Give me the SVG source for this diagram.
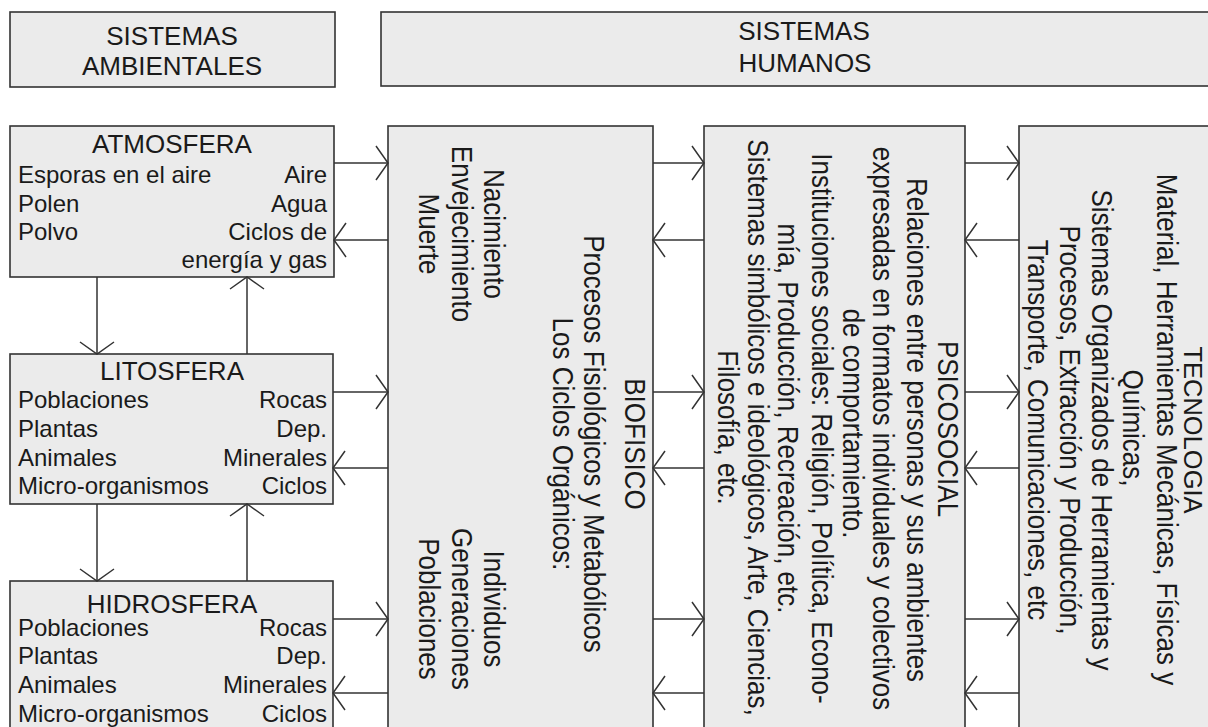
<svg xmlns="http://www.w3.org/2000/svg" width="1208" height="727" viewBox="0 0 1208 727">
<style>
.box{fill:#ebebeb;stroke:#333;stroke-width:1.6}
.t{font-family:"Liberation Sans",Arial,sans-serif;fill:#1a1a1a}
.h{font-size:26px;text-anchor:middle}
.ti{font-size:26px;text-anchor:middle}
.l{font-size:24px}
.r{font-size:24px;text-anchor:end}
.v{font-size:26px;text-anchor:middle}
.c{fill:none;stroke:#333;stroke-width:1.5}
</style>
<defs>
<marker id="v" markerUnits="userSpaceOnUse" viewBox="-15 -20 17 40" refX="0" refY="0" markerWidth="17" markerHeight="40" orient="auto">
<path d="M-12,-17 L0,0 L-12,17" fill="none" stroke="#333" stroke-width="1.5"/>
</marker>
</defs>
<rect width="1208" height="727" fill="#fff"/>
<g id="hdr-ambientales">
<rect class="box" x="10" y="12" width="325" height="75"/>
<text class="t h" x="172" y="45">SISTEMAS</text>
<text class="t h" x="172" y="75">AMBIENTALES</text>
</g>
<g id="hdr-humanos">
<rect class="box" x="381" y="12" width="840" height="74"/>
<text class="t h" x="804" y="40">SISTEMAS</text>
<text class="t h" x="805" y="72">HUMANOS</text>
</g>
<g id="atmosfera">
<rect class="box" x="10" y="126" width="324" height="151"/>
<text class="t ti" x="172" y="153">ATMOSFERA</text>
<text class="t l" x="18" y="183">Esporas en el aire</text>
<text class="t l" x="18" y="212">Polen</text>
<text class="t l" x="18" y="240">Polvo</text>
<text class="t r" x="327" y="183">Aire</text>
<text class="t r" x="327" y="212">Agua</text>
<text class="t r" x="327" y="240">Ciclos de</text>
<text class="t r" x="327" y="268">energía y gas</text>
</g>
<g id="litosfera">
<rect class="box" x="10" y="354" width="323" height="150"/>
<text class="t ti" x="172" y="380">LITOSFERA</text>
<text class="t l" x="18" y="408">Poblaciones</text>
<text class="t l" x="18" y="437">Plantas</text>
<text class="t l" x="18" y="466">Animales</text>
<text class="t l" x="18" y="494">Micro-organismos</text>
<text class="t r" x="327" y="408">Rocas</text>
<text class="t r" x="327" y="437">Dep.</text>
<text class="t r" x="327" y="466">Minerales</text>
<text class="t r" x="327" y="494">Ciclos</text>
</g>
<g id="hidrosfera">
<rect class="box" x="10" y="581" width="323" height="160"/>
<text class="t ti" x="172" y="613">HIDROSFERA</text>
<text class="t l" x="18" y="636">Poblaciones</text>
<text class="t l" x="18" y="664">Plantas</text>
<text class="t l" x="18" y="693">Animales</text>
<text class="t l" x="18" y="722">Micro-organismos</text>
<text class="t r" x="327" y="636">Rocas</text>
<text class="t r" x="327" y="664">Dep.</text>
<text class="t r" x="327" y="693">Minerales</text>
<text class="t r" x="327" y="722">Ciclos</text>
</g>
<g id="biofisico">
<rect class="box" x="388" y="126" width="265" height="615"/>
<text class="t v" transform="translate(625,444) rotate(90) scale(1,1.12)">BIOFISICO</text>
<text class="t v" transform="translate(584,444) rotate(90) scale(1,1.12)">Procesos Fisiológicos y Metabólicos</text>
<text class="t v" transform="translate(553,444) rotate(90) scale(1,1.12)">Los Ciclos Orgánicos:</text>
<text class="t v" transform="translate(484,234) rotate(90) scale(1,1.12)">Nacimiento</text>
<text class="t v" transform="translate(452,234) rotate(90) scale(1,1.12)">Envejecimiento</text>
<text class="t v" transform="translate(419,234) rotate(90) scale(1,1.12)">Muerte</text>
<text class="t v" transform="translate(484,609) rotate(90) scale(1,1.12)">Individuos</text>
<text class="t v" transform="translate(452,609) rotate(90) scale(1,1.12)">Generaciones</text>
<text class="t v" transform="translate(419,609) rotate(90) scale(1,1.12)">Poblaciones</text>
</g>
<g id="psicosocial">
<rect class="box" x="704" y="126" width="261" height="615"/>
<text class="t v" transform="translate(938,429) rotate(90) scale(1,1.12)">PSICOSOCIAL</text>
<text class="t v" transform="translate(907,430) rotate(90) scale(1,1.12)">Relaciones entre personas y sus ambientes</text>
<text class="t v" transform="translate(873,428.5) rotate(90) scale(1,1.12)">expresadas en formatos individuales y colectivos</text>
<text class="t v" transform="translate(843,423.5) rotate(90) scale(1,1.12)">de comportamiento.</text>
<text class="t v" transform="translate(812,428.5) rotate(90) scale(1,1.12)">Instituciones sociales: Religión, Política, Econo-</text>
<text class="t v" transform="translate(778,418.5) rotate(90) scale(1,1.12)">mía, Producción, Recreación, etc.</text>
<text class="t v" transform="translate(748,427.5) rotate(90) scale(1,1.12)">Sistemas simbólicos e ideológicos, Arte, Ciencias,</text>
<text class="t v" transform="translate(718,427.5) rotate(90) scale(1,1.12)">Filosofía, etc.</text>
</g>
<g id="tecnologia">
<rect class="box" x="1019" y="126" width="200" height="615"/>
<text class="t v" style="font-size:25.5px" transform="translate(1184,430) rotate(90)">TECNOLOGIA</text>
<text class="t v" transform="translate(1157,429.5) rotate(90) scale(1,1.12)">Material, Herramientas Mecánicas, Físicas y</text>
<text class="t v" transform="translate(1123,428) rotate(90) scale(1,1.12)">Químicas,</text>
<text class="t v" transform="translate(1092,430) rotate(90) scale(1,1.12)">Sistemas Organizados de Herramientas y</text>
<text class="t v" transform="translate(1060,430) rotate(90) scale(1,1.12)">Procesos, Extracción y Producción,</text>
<text class="t v" transform="translate(1028,430) rotate(90) scale(1,1.12)">Transporte, Comunicaciones, etc</text>
</g>
<g id="connectors">
<path class="c" marker-end="url(#v)" d="M334,163 H388"/>
<path class="c" marker-end="url(#v)" d="M388,240 H334"/>
<path class="c" marker-end="url(#v)" d="M333,392 H388"/>
<path class="c" marker-end="url(#v)" d="M388,468 H333"/>
<path class="c" marker-end="url(#v)" d="M333,619 H388"/>
<path class="c" marker-end="url(#v)" d="M388,693 H333"/>
<path class="c" marker-end="url(#v)" d="M653,163 H704"/>
<path class="c" marker-end="url(#v)" d="M704,240 H653"/>
<path class="c" marker-end="url(#v)" d="M653,392 H704"/>
<path class="c" marker-end="url(#v)" d="M704,468 H653"/>
<path class="c" marker-end="url(#v)" d="M653,619 H704"/>
<path class="c" marker-end="url(#v)" d="M704,693 H653"/>
<path class="c" marker-end="url(#v)" d="M965,163 H1019"/>
<path class="c" marker-end="url(#v)" d="M1019,240 H965"/>
<path class="c" marker-end="url(#v)" d="M965,392 H1019"/>
<path class="c" marker-end="url(#v)" d="M1019,468 H965"/>
<path class="c" marker-end="url(#v)" d="M965,619 H1019"/>
<path class="c" marker-end="url(#v)" d="M1019,693 H965"/>
<path class="c" marker-end="url(#v)" d="M97,277 V354"/>
<path class="c" marker-end="url(#v)" d="M247,354 V277"/>
<path class="c" marker-end="url(#v)" d="M97,504 V581"/>
<path class="c" marker-end="url(#v)" d="M247,581 V504"/>
</g>
</svg>
